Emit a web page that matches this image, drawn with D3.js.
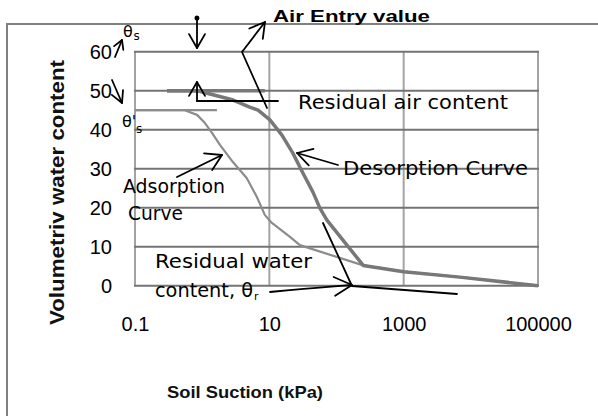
<!DOCTYPE html>
<html><head><meta charset="utf-8">
<script src="https://cdn.jsdelivr.net/npm/d3@7"></script>
<style>body{margin:0;background:#fff}</style>
</head><body>
<svg id="c" width="598" height="416"></svg>
<script>
// ---- data ----
const xTickValues = [0.1, 10, 1000, 100000];
const xTickLabels = ["0.1", "10", "1000", "100000"];
const yTickValues = [0, 10, 20, 30, 40, 50, 60];

const desorptionSuction = [0.3, 0.85, 2.9, 5.1, 6.8, 10.2, 15.4, 22.4, 31.6, 44.6, 56.6, 72, 250, 1000, 6860, 100000];
const desorptionWater   = [50, 50, 47.6, 45.8, 45, 42.5, 38.6, 34, 28.9, 24, 19.9, 16.8, 5.2, 3.6, 2.2, 0];
const adsorptionSuction = [0.1, 0.55, 0.84, 1.1, 1.4, 1.84, 2.87, 4.6, 6.5, 8.6, 10.9, 20.3, 28.5, 250, 1000, 6860, 100000];
const adsorptionWater   = [45, 45, 43.8, 41.7, 39.2, 36.1, 31.7, 27.6, 22.8, 18.1, 16.1, 12.5, 10.4, 5.2, 3.6, 2.2, 0];

// saturated water content reference lines (suction range, value)
const thetaSLine = [0.3, 8.6];       const thetaSValue = 50;
const thetaSPrimeLine = [0.1, 1.66]; const thetaSPrimeValue = 45;

// ---- drawing ----
const svg = d3.select("#c");
svg.append("rect").attr("width", 598).attr("height", 416).attr("fill", "#fff");

const x = d3.scaleLog().domain([0.1, 100000]).range([135, 538]);
const y = d3.scaleLinear().domain([0, 60]).range([285.7, 51.7]);

// outer chart frame (left and top edges visible)
svg.append("path").attr("d", "M7,416 L7,24 L598,24")
  .attr("fill", "none").attr("stroke", "#808080").attr("stroke-width", 2);

// vertical gridlines
svg.append("g").selectAll("line").data(xTickValues).join("line")
  .attr("x1", d => x(d)).attr("x2", d => x(d))
  .attr("y1", y(0)).attr("y2", y(60))
  .attr("stroke", "#a3a3a3").attr("stroke-width", 2);
// horizontal gridlines
svg.append("g").selectAll("line").data(yTickValues).join("line")
  .attr("x1", x(0.1) - 1).attr("x2", x(100000) + 1)
  .attr("y1", d => y(d)).attr("y2", d => y(d))
  .attr("stroke", "#737373").attr("stroke-width", 2);

// axes labels
const yAxis = svg.append("g").attr("transform", "translate(135,0)")
  .call(d3.axisLeft(y).tickValues(yTickValues).tickSize(0).tickPadding(23));
yAxis.select(".domain").remove();
yAxis.attr("font-size", 20).attr("font-family", "Liberation Sans, Arial, sans-serif");
yAxis.selectAll("text").attr("fill", "#000");

const xAxis = svg.append("g").attr("transform", `translate(0,${y(0)})`)
  .call(d3.axisBottom(x).tickValues(xTickValues).tickFormat((d, i) => xTickLabels[i]).tickSize(0).tickPadding(31));
xAxis.select(".domain").remove();
xAxis.attr("font-size", 20).attr("font-family", "Liberation Sans, Arial, sans-serif");
xAxis.selectAll("text").attr("fill", "#000");

// series
const line = d3.line().x(d => x(d[0])).y(d => y(d[1]));
const ads = adsorptionSuction.map((s, i) => [s, adsorptionWater[i]]);
const des = desorptionSuction.map((s, i) => [s, desorptionWater[i]]);

svg.append("path").attr("d", line([[thetaSPrimeLine[0], thetaSPrimeValue], [thetaSPrimeLine[1], thetaSPrimeValue]]))
  .attr("fill", "none").attr("stroke", "#8c8c8c").attr("stroke-width", 2.2);
svg.append("path").attr("d", line(ads))
  .attr("fill", "none").attr("stroke", "#8c8c8c").attr("stroke-width", 2.2).attr("stroke-linejoin", "round");
svg.append("path").attr("d", line([[thetaSLine[0], thetaSValue], [thetaSLine[1], thetaSValue]]))
  .attr("fill", "none").attr("stroke", "#787878").attr("stroke-width", 3.5);
svg.append("path").attr("d", line(des))
  .attr("fill", "none").attr("stroke", "#787878").attr("stroke-width", 3.5).attr("stroke-linejoin", "round");

// annotations
const ann = svg.append("g").attr("fill", "none").attr("stroke", "#000").attr("stroke-width", 1.8)
  .attr("stroke-linecap", "round").attr("stroke-linejoin", "round");
function head(tip, from, len, ang) {
  const a = Math.atan2(from[1] - tip[1], from[0] - tip[0]);
  const r = ang * Math.PI / 180;
  return [[tip[0] + len * Math.cos(a + r), tip[1] + len * Math.sin(a + r)], tip,
          [tip[0] + len * Math.cos(a - r), tip[1] + len * Math.sin(a - r)]];
}
function arrow(pts, len, ang, curve) {
  const l = d3.line();
  if (curve) l.curve(d3.curveBasis);
  ann.append("path").attr("d", l(pts));
  const n = pts.length;
  ann.append("path").attr("d", d3.line()(head(pts[n - 1], pts[n - 2], len, ang)));
}
arrow([[115, 57], [122, 40]], 10, 30);                 // theta_s
arrow([[112, 80], [122, 103]], 13, 28);                // theta'_s
arrow([[197, 19], [197, 48]], 16, 30);                 // down arrow
ann.append("circle").attr("cx", 197).attr("cy", 18).attr("r", 1.6).attr("fill", "#000");
arrow([[197, 101], [197, 82]], 16, 30);                // up arrow
ann.append("path").attr("d", "M197,101 L278,101");
arrow([[267, 108], [242, 52], [265, 22]], 17, 30);     // air entry
arrow([[177, 177], [222, 155]], 18, 31);               // adsorption
arrow([[338, 165], [297, 153]], 17, 30);               // desorption
arrow([[270, 292], [300, 289], [352, 285]], 20, 28, true); // residual water
ann.append("path").attr("d", "M323,223 L352,286 L457,294");

// texts
const T = svg.append("g").attr("font-family", "DejaVu Sans, sans-serif").attr("fill", "#000");
function txt(s, xx, yy, size, len, anchor) {
  const t = T.append("text").attr("x", xx).attr("y", yy).attr("font-size", size).text(s);
  if (len) t.attr("textLength", len).attr("lengthAdjust", "spacingAndGlyphs");
  if (anchor) t.attr("text-anchor", anchor);
  return t;
}
txt("Residual air content", 298, 109, 19.5, 210);
txt("Desorption Curve", 343, 175, 19.5, 185);
txt("Adsorption", 123, 193, 19, 102);
txt("Curve", 128, 220, 19, 55);
txt("Residual water", 155, 268, 19.5, 157);
txt("content, θ", 155, 297, 19.5, 98);
txt("r", 254, 300, 11);
txt("θ", 123, 37, 16);
txt("s", 133.5, 40, 12);
txt("θ'", 122, 127, 16);
txt("s", 136, 133, 12);

svg.append("text").attr("x", 273).attr("y", 22)
  .attr("font-family", "Liberation Sans, Arial, sans-serif").attr("font-weight", "bold")
  .attr("font-size", 16.5).attr("textLength", 157).attr("lengthAdjust", "spacingAndGlyphs")
  .text("Air  Entry value");

// axis titles
svg.append("text").attr("transform", "translate(64,192.5) rotate(-90)").attr("text-anchor", "middle")
  .attr("font-family", "Liberation Sans, Arial, sans-serif").attr("font-weight", "bold")
  .attr("font-size", 20.5).attr("fill", "#111").attr("textLength", 265).attr("lengthAdjust", "spacingAndGlyphs")
  .text("Volumetriv water content");
svg.append("text").attr("x", 245).attr("y", 398).attr("text-anchor", "middle")
  .attr("font-family", "Liberation Sans, Arial, sans-serif").attr("font-weight", "bold")
  .attr("font-size", 17).attr("fill", "#111").attr("textLength", 156).attr("lengthAdjust", "spacingAndGlyphs")
  .text("Soil Suction (kPa)");
</script>
</body></html>
